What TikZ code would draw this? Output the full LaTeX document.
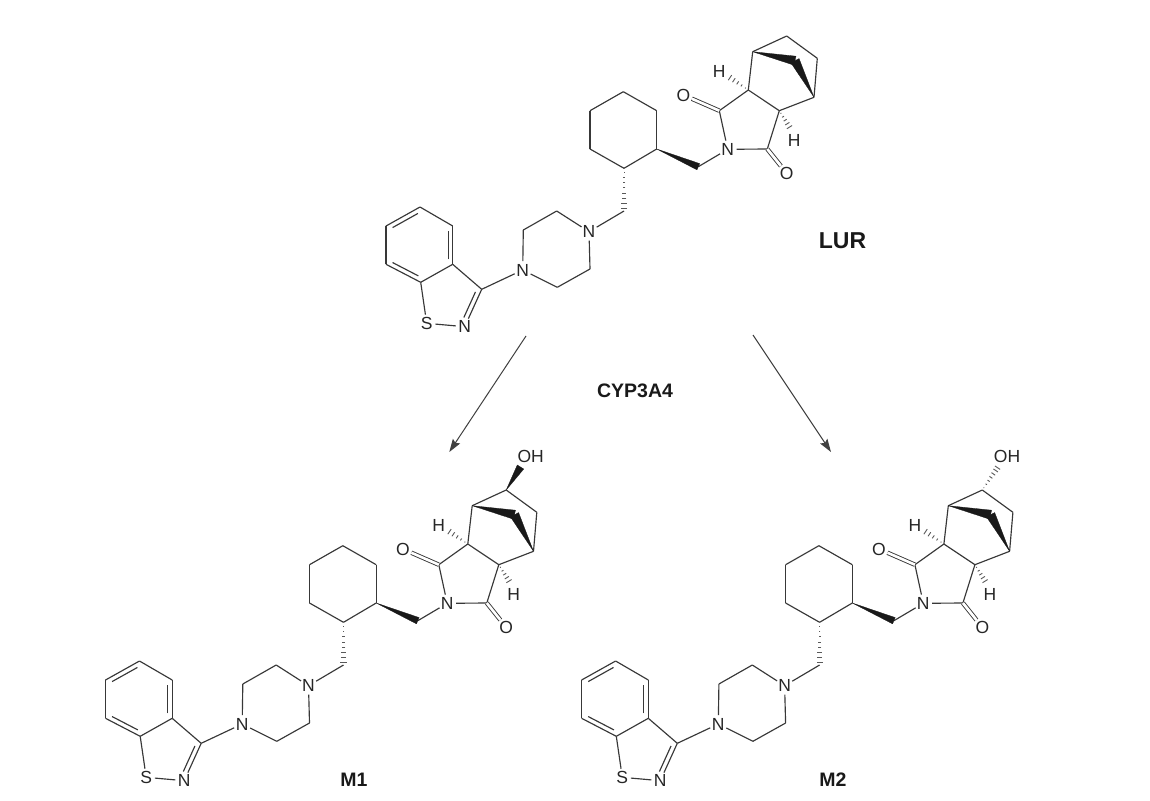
\documentclass[tikz,border=0pt]{standalone}
\usepackage{fontspec}
\setmainfont{Liberation Sans}
\usetikzlibrary{calc, arrows.meta}

\begin{document}
\begin{tikzpicture}[x=1pt, y=-1pt]
  \newcommand\bondwidth{1.15pt}
  \newcommand\atomsize{\fontsize{17.5}{18}\selectfont}
  \newcommand\namesize{\fontsize{19.5}{20}\selectfont\bfseries}
  \newcommand\lursize{\fontsize{23}{24}\selectfont\bfseries}

  \tikzset{bond/.style={draw=black!78, line width=\bondwidth}}
  \tikzset{doublebond/.style={bond, double, double distance=2.6pt, line width=0.9pt}}
  \tikzset{hashline/.style={draw=black!65, line width=0.9pt}}
  \tikzset{solidwedge/.style={fill=black!90, draw=black!90, line width=0.3pt, line join=round}}
  \tikzset{atom/.style={circle, inner sep=0pt, text=black!85, font=\atomsize}}
  \tikzset{freeatom/.style={inner sep=0pt, text=black!85, font=\atomsize}}
  \tikzset{molname/.style={inner sep=0pt, text=black!90, font=\namesize}}
  \tikzset{reaction/.style={draw=black!75, line width=1pt, -{Stealth[length=13pt, width=8.5pt, inset=2pt]}}}

  % inner line of a ring double bond, on the left of a -> b
  \newcommand\dbond[3][5pt]{
    \draw[bond, shorten <=#1, shorten >=5pt] ($(#2)!4.6pt!90:(#3)$) -- ($(#3)!4.6pt!-90:(#2)$);
  }
  \newcommand\wedgebond[3]{
    \fill[solidwedge] (#1) -- ($(#2)!#3!90:(#1)$) -- ($(#2)!#3!-90:(#1)$) -- cycle;
  }
  \newcommand\hashbond[3]{
    \foreach \hpos in {#3}{
      \draw[hashline] ($(#1)!\hpos!(#2)!{\hpos*3.2pt}!90:(#2)$) -- ($(#1)!\hpos!(#2)!{\hpos*3.2pt}!-90:(#2)$);
    }
  }

  \useasboundingbox (0, 0) rectangle (1150, 800);
  \fill[white] (0, 0) rectangle (1150, 800);

  \foreach \mol/\dx/\dy in {l/0/0, a/-280.5/454, b/195.6/454}{
    \begin{scope}[shift={(\dx, \dy)}]
      % benzisothiazole
      \coordinate (\mol-b1) at (420, 207);
      \coordinate (\mol-b2) at (452.7, 226);
      \coordinate (\mol-b3) at (452.7, 264.3);
      \coordinate (\mol-b4) at (420.7, 282.3);
      \coordinate (\mol-b5) at (386, 264.3);
      \coordinate (\mol-b6) at (386, 226);
      \coordinate (\mol-c3) at (481.7, 289.3);
      \node[atom] (\mol-nz) at (464.7, 326.7) {N};
      \node[atom] (\mol-s) at (426.7, 323.3) {S};
      % piperazine
      \node[atom] (\mol-n1) at (522.7, 270) {N};
      \coordinate (\mol-p1) at (523.3, 230);
      \coordinate (\mol-p2) at (556.7, 211);
      \node[atom] (\mol-n2) at (589, 231.7) {N};
      \coordinate (\mol-p3) at (590, 269);
      \coordinate (\mol-p4) at (557.3, 287.3);
      % cyclohexane
      \coordinate (\mol-ch2) at (624, 211);
      \coordinate (\mol-h1) at (624, 168.3);
      \coordinate (\mol-h2) at (656.7, 149);
      \coordinate (\mol-h3) at (656.7, 110.7);
      \coordinate (\mol-h4) at (623.3, 91.7);
      \coordinate (\mol-h5) at (590, 110.7);
      \coordinate (\mol-h6) at (590, 149);
      \coordinate (\mol-ch3) at (698.3, 166.7);
      % imide and bridged ring
      \node[atom] (\mol-n3) at (727.7, 149.3) {N};
      \coordinate (\mol-k1) at (719.3, 110.7);
      \coordinate (\mol-k2) at (767.3, 149);
      \node[atom] (\mol-o1) at (683.3, 95) {O};
      \node[atom] (\mol-o2) at (786.7, 173.3) {O};
      \coordinate (\mol-j1) at (748.3, 90);
      \coordinate (\mol-j2) at (779.3, 110.7);
      \coordinate (\mol-t1) at (752.7, 51.7);
      \coordinate (\mol-t2) at (814, 97.3);
      \coordinate (\mol-top) at (786.7, 36);
      \coordinate (\mol-side) at (817.3, 58.3);
      \coordinate (\mol-apex) at (795, 60.7);
      \node[freeatom] (\mol-h7) at (719.3, 71.7) {H};
      \node[freeatom] (\mol-h8) at (794.3, 140.7) {H};
      \coordinate (\mol-e7) at (729, 77);
      \coordinate (\mol-e8) at (790, 128);

      \foreach \from/\to in {b1/b2, b2/b3, b3/b4, b4/b5, b5/b6, b6/b1, b3/c3, c3/nz, nz/s, s/b4, c3/n1,
        n1/p1, p1/p2, p2/n2, n2/p3, p3/p4, p4/n1, n2/ch2,
        h1/h2, h2/h3, h3/h4, h4/h5, h5/h6, h6/h1, ch3/n3,
        n3/k1, n3/k2, k1/j1, j1/j2, j2/k2, j1/t1, j2/t2, t1/top, top/side, side/t2}{
        \draw[bond] (\mol-\from) -- (\mol-\to);
      }
      \draw[doublebond] (\mol-k1) -- (\mol-o1);
      \draw[doublebond] (\mol-k2) -- (\mol-o2);

      \dbond{\mol-b1}{\mol-b6}
      \dbond{\mol-b3}{\mol-b2}
      \dbond{\mol-b5}{\mol-b4}
      \dbond[8pt]{\mol-nz}{\mol-c3}

      \wedgebond{\mol-h2}{\mol-ch3}{3.4pt}
      \wedgebond{\mol-t1}{\mol-apex}{4.6pt}
      \wedgebond{\mol-t2}{\mol-apex}{4.6pt}
      \hashbond{\mol-h1}{\mol-ch2}{0.1,0.22,0.34,0.46,0.58,0.7,0.82,0.94}
      \hashbond{\mol-j1}{\mol-e7}{0.15,0.35,0.55,0.75,0.95}
      \hashbond{\mol-j2}{\mol-e8}{0.15,0.35,0.55,0.75,0.95}
    \end{scope}
  }

  % hydroxyl groups of the two metabolites
  \node[freeatom] (a-oh) at (530.7, 456.7) {OH};
  \coordinate (a-e) at (520.5, 467);
  \wedgebond{a-top}{a-e}{3.8pt}
  \node[freeatom] (b-oh) at (1007, 456.7) {OH};
  \coordinate (b-e) at (998, 467);
  \hashbond{b-top}{b-e}{0.1,0.25,0.4,0.55,0.7,0.85,0.97}

  \coordinate (arrowl-s) at (526, 336);
  \coordinate (arrowl-e) at (449.3, 452);
  \coordinate (arrowr-s) at (753, 335);
  \coordinate (arrowr-e) at (831, 452);
  \draw[reaction] (arrowl-s) -- (arrowl-e);
  \draw[reaction] (arrowr-s) -- (arrowr-e);

  \node[molname, font=\lursize] (lur) at (842.5, 241) {LUR};
  \node[molname] (cyp) at (635, 391) {CYP3A4};
  \node[molname] (m1) at (354, 780) {M1};
  \node[molname] (m2) at (833, 780) {M2};
\end{tikzpicture}
\end{document}
